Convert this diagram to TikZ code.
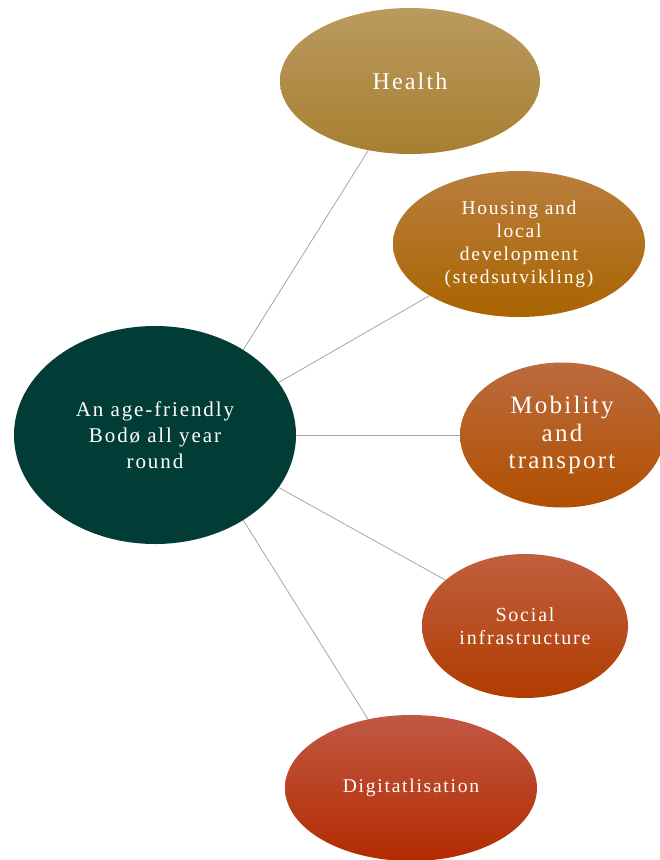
\documentclass[tikz,border=0pt]{standalone}
\usepackage{fontspec}
\setmainfont{Liberation Serif}
\newfontfamily\spaced[LetterSpace=9]{Liberation Serif}
\usetikzlibrary{shapes.geometric}
\definecolor{centralc}{HTML}{023C37}
\definecolor{linec}{HTML}{A6A6A6}
\definecolor{hTop}{HTML}{BA9A60}\definecolor{hBot}{HTML}{A87F30}
\definecolor{oTop}{HTML}{B97E3E}\definecolor{oBot}{HTML}{A96400}
\definecolor{mTop}{HTML}{BC6B3E}\definecolor{mBot}{HTML}{B04F00}
\definecolor{sTop}{HTML}{C05F3F}\definecolor{sBot}{HTML}{B13C00}
\definecolor{dTop}{HTML}{C15844}\definecolor{dBot}{HTML}{B32B00}
\tikzset{
  bubble/.style={ellipse, inner sep=0pt, text=white, align=center, draw=none},
  link/.style={draw=linec, line width=0.8pt}
}
\begin{document}
\begin{tikzpicture}[x=1pt,y=-1pt]
\useasboundingbox (0,0) rectangle (660,860);
\node[bubble, fill=centralc, minimum width=282pt, minimum height=218pt,
  font=\spaced\fontsize{21}{26}\selectfont] (c) at (155,435)
  {An age-friendly\\Bodø all year\\round};
\node[bubble, top color=hTop, bottom color=hBot, minimum width=260pt, minimum height=146pt,
  font=\spaced\fontsize{24}{28}\selectfont] (h) at (410,81) {Health};
\node[bubble, top color=oTop, bottom color=oBot, minimum width=252pt, minimum height=146pt,
  font=\spaced\fontsize{19.5}{23}\selectfont] (o) at (519,244)
  {Housing and\\local\\development\\(stedsutvikling)};
\node[bubble, top color=mTop, bottom color=mBot, minimum width=204pt, minimum height=145pt,
  font=\spaced\fontsize{25}{27.5}\selectfont] (m) at (562,435)
  {Mobility\\and\\transport};
\node[bubble, top color=sTop, bottom color=sBot, minimum width=206pt, minimum height=144pt,
  font=\spaced\fontsize{20}{23}\selectfont] (s) at (525,626)
  {Social\\infrastructure};
\node[bubble, top color=dTop, bottom color=dBot, minimum width=252pt, minimum height=146pt,
  font=\spaced\fontsize{19.5}{23}\selectfont] (d) at (411,788)
  {Digitatlisation};
\draw[link] (c.44) -- (h.239);
\draw[link] (c.23.5) -- (o.210);
\draw[link] (c.0) -- (m.180);
\draw[link] (c.-23.5) -- (s.150);
\draw[link] (c.-44.7) -- (d.122);
\end{tikzpicture}
\end{document}
